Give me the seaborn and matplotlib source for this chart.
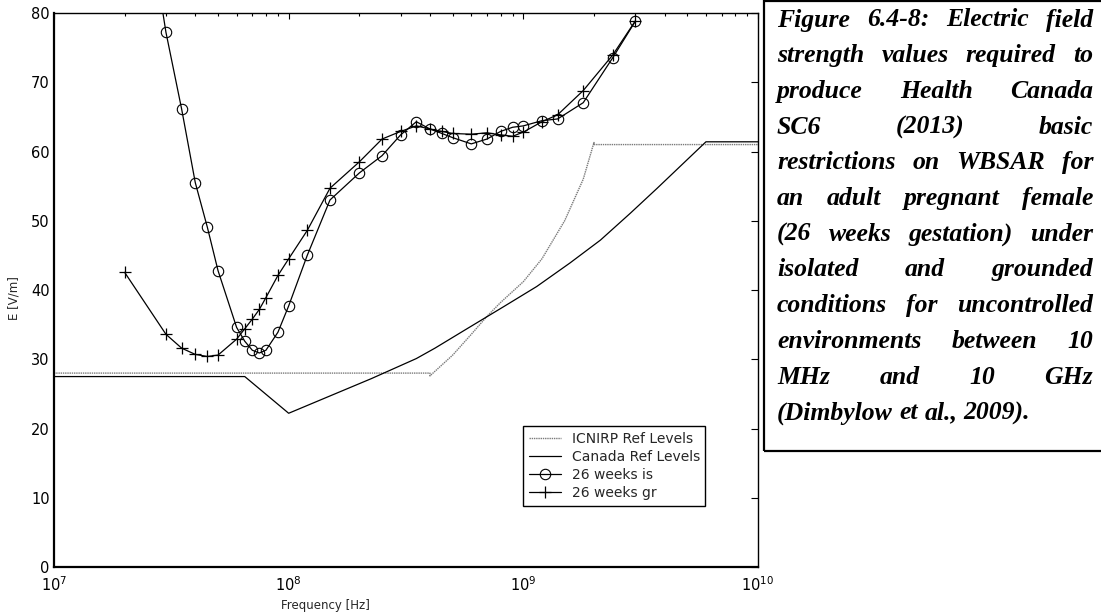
import numpy as np
import pandas as pd
import matplotlib
matplotlib.use("Agg")
import matplotlib.pyplot as plt
import matplotlib.patches as patches
from matplotlib.ticker import LogLocator, FixedLocator, NullLocator
import seaborn as sns

# ---------------- data ----------------
freq_mhz = [20, 30, 35, 40, 45, 50, 60, 65, 70, 75, 80, 90, 100,
            120, 150, 200, 250, 300, 350, 400, 450, 500, 600, 700,
            800, 900, 1000, 1200, 1400, 1800, 2400, 3000]
e_isolated = [115, 77.2, 66.1, 55.5, 49.1, 42.8, 34.6, 32.6, 31.3, 30.9, 31.3, 33.9, 37.7,
              45.0, 53.0, 56.9, 59.4, 62.4, 64.3, 63.25, 62.6, 62.0, 61.1, 61.8,
              62.9, 63.5, 63.7, 64.45, 64.7, 67.05, 73.5, 78.8]
e_grounded = [42.55, 33.6, 31.6, 30.7, 30.4, 30.6, 32.9, 34.4, 35.8, 37.2, 38.9, 42.1, 44.5,
              48.6, 54.7, 58.5, 61.8, 62.9, 63.7, 63.25, 62.9, 62.6, 62.5, 62.7,
              62.4, 62.2, 62.8, 64.3, 65.3, 68.8, 73.9, 78.85]

icnirp_f_mhz = [10, 400, 400, 500, 600, 700, 800, 1000, 1200, 1500, 1800, 2000, 2000, 10000]
icnirp_e = [28, 28, 27.6, 30.6, 33.6, 36.2, 38.2, 41.2, 44.5, 50.0, 56.0, 61.3, 61.0, 61.0]

canada_f_mhz = [10, 65, 100, 150, 225, 350, 420, 575, 825, 1140, 1580, 2130, 2860, 3720, 6000, 10000]
canada_e = [27.5, 27.5, 22.2, 24.7, 27.2, 30.1, 31.6, 34.4, 37.6, 40.5, 43.9, 47.2, 51.1, 54.7, 61.4, 61.4]

series_labels = ["ICNIRP Ref Levels", "Canada Ref Levels", "26 weeks is", "26 weeks gr"]
y_ticks = [0, 10, 20, 30, 40, 50, 60, 70, 80]
x_label = "Frequency [Hz]"
y_label = "E [V/m]"

caption_lines = [
    "Figure 6.4-8: Electric field",
    "strength values required to",
    "produce Health Canada",
    "SC6 (2013) basic",
    "restrictions on WBSAR for",
    "an adult pregnant female",
    "(26 weeks gestation) under",
    "isolated and grounded",
    "conditions for uncontrolled",
    "environments between 10",
    "MHz and 10 GHz",
    "(Dimbylow et al., 2009).",
]

# ---------------- figure ----------------
sns.set_theme(style="white")
plt.rcParams["font.family"] = ["DejaVu Sans"]
plt.rcParams["axes.edgecolor"] = "black"

W, H = 1101, 615
fig = plt.figure(figsize=(W / 100, H / 100), dpi=100)
ax = fig.add_axes([54 / W, 1 - 567 / H, 704 / W, 554 / H])

to_hz = lambda fl: [f * 1e6 for f in fl]

sns.lineplot(x=to_hz(icnirp_f_mhz), y=icnirp_e, ax=ax, color="#7a7a7a",
             linestyle=(0, (1, 0.6)), linewidth=1.0, estimator=None, sort=False,
             label=series_labels[0])
sns.lineplot(x=to_hz(canada_f_mhz), y=canada_e, ax=ax, color="black",
             linewidth=0.9, estimator=None, sort=False, label=series_labels[1])
sns.lineplot(x=to_hz(freq_mhz), y=e_isolated, ax=ax, color="black", linewidth=0.9,
             marker="o", markersize=7.5, markerfacecolor="none", markeredgecolor="black",
             markeredgewidth=0.8, estimator=None, sort=False, label=series_labels[2])
sns.lineplot(x=to_hz(freq_mhz), y=e_grounded, ax=ax, color="black", linewidth=0.9,
             marker="+", markersize=9, markeredgecolor="black",
             markeredgewidth=0.9, estimator=None, sort=False, label=series_labels[3])

ax.set_xscale("log")
ax.set_xlim(1e7, 1e10)
ax.set_ylim(0, 80)
ax.yaxis.set_major_locator(FixedLocator(y_ticks))
ax.yaxis.set_minor_locator(NullLocator())
ax.xaxis.set_major_locator(LogLocator(base=10, numticks=10))
ax.xaxis.set_minor_locator(LogLocator(base=10, subs=np.arange(2, 10), numticks=20))

ax.tick_params(axis="both", which="both", direction="in", top=True, right=True,
               colors="black", labelsize=10.5)
ax.tick_params(axis="y", which="major", length=5, width=0.8, pad=3)
ax.tick_params(axis="x", which="major", length=4, width=0.8, pad=6)
ax.tick_params(axis="x", which="minor", length=2.5, width=0.8)

for side in ["left", "bottom"]:
    ax.spines[side].set_linewidth(1.6)
for side in ["top", "right"]:
    ax.spines[side].set_linewidth(1.0)
for s in ax.spines.values():
    s.set_color("black")
    s.set_visible(True)

ax.set_xlabel(x_label, fontsize=8.5, va="center")
ax.xaxis.set_label_coords((325.5 - 54) / 704, (567 - 606) / 554)
ax.set_ylabel(y_label, fontsize=8.5, va="center")
ax.yaxis.set_label_coords((14 - 54) / 704, (567 - 298) / 554)

leg = ax.legend(loc="upper left", bbox_to_anchor=((523 - 54) / 704, (567 - 426) / 554),
                borderaxespad=0, frameon=True, fancybox=False, framealpha=1,
                edgecolor="black", fontsize=10, handlelength=2.3, handletextpad=0.8,
                labelspacing=0.3, borderpad=0.4)
leg.get_frame().set_linewidth(1.0)

# ---------------- caption box with justified text ----------------
rect = patches.Rectangle((764 / W, 1 - 451 / H), (1110 - 764) / W, (451 - 1) / H,
                         transform=fig.transFigure, fill=False, edgecolor="black",
                         linewidth=1.6, clip_on=False)
fig.add_artist(rect)

cap_font = dict(family="Liberation Serif", weight="bold", style="italic", size=18.5,
                color="black")
fig.canvas.draw()
renderer = fig.canvas.get_renderer()


def word_width(w):
    t = fig.text(0, 0, w, **cap_font)
    bb = t.get_window_extent(renderer)
    t.remove()
    return bb.width


x_left, x_right = 777, 1093
line0, spacing = 19, 35.7
for i, line in enumerate(caption_lines):
    words = line.split(" ")
    widths = [word_width(w) for w in words]
    baseline = line0 + i * spacing + 7.5
    if i == len(caption_lines) - 1 or len(words) == 1:
        gap = word_width("a b") - word_width("a") - word_width("b")
    else:
        gap = (x_right - x_left - sum(widths)) / (len(words) - 1)
    x = x_left
    for w, wd in zip(words, widths):
        fig.text(x / W, 1 - baseline / H, w, ha="left", va="baseline", **cap_font)
        x += wd + gap

fig.savefig("out.png", dpi=100)
